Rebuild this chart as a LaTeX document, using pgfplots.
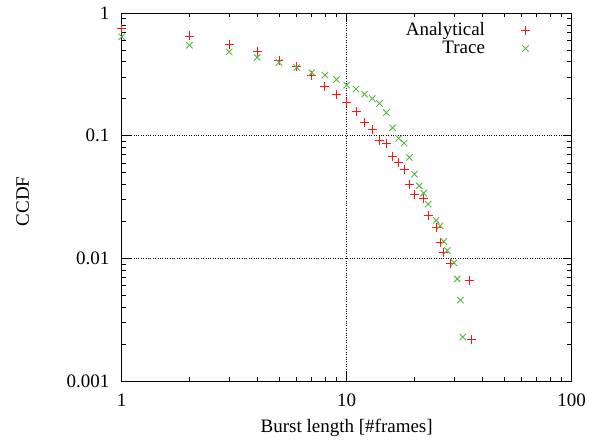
\documentclass[border=0pt]{standalone}
\usepackage{fontspec}
\setmainfont{Liberation Serif}
\usepackage{pgfplots}
\pgfplotsset{compat=1.18}
\definecolor{ared}{RGB}{255,20,20}
\definecolor{tgreen}{RGB}{85,185,65}
\begin{document}
\begin{tikzpicture}
\begin{loglogaxis}[
  scale only axis, width=450pt, height=368pt,
  xmin=1, xmax=100, ymin=0.001, ymax=1,
  xtick={1,10,100}, xticklabels={1,10,100},
  ytick={0.001,0.01,0.1,1}, yticklabels={0.001,0.01,0.1,1},
  tick align=inside, major tick length=9pt, minor tick length=4.5pt,
  xtick pos=both, ytick pos=both,
  xmajorgrids, ymajorgrids,
  major grid style={black, dotted, line width=0.9pt},
  tick style={black, line width=0.7pt},
  axis line style={black, line width=0.9pt},
  font=\fontsize{19}{21}\selectfont,
  xticklabel style={anchor=north, inner sep=0pt, yshift=-13pt},
  yticklabel style={anchor=east, inner sep=0pt, xshift=-12pt},
  every axis x label/.style={at={(axis description cs:0.5,0)}, anchor=center, yshift=-46.7pt},
  every axis y label/.style={at={(axis description cs:0,0.5)}, shift={(-99pt,-4.5pt)}, anchor=center, rotate=90},
  xlabel={Burst length [\#frames]}, ylabel={CCDF},
  legend plot pos=right,
  legend style={draw=none, fill=none, legend cell align=right,
    at={(axis description cs:0.9144,0.983)}, anchor=north east,
    column sep=35pt, inner xsep=3pt, inner ysep=2pt,
    nodes={inner sep=1pt, text height=13pt, text depth=3pt}},
]
\addplot[only marks, mark=+, color=ared, mark size=4.5pt, line width=0.9pt] coordinates {
(1,0.746) (2,0.65) (3,0.557) (4,0.49) (5,0.41) (6,0.366) (7,0.312) (8,0.253)
(9,0.217) (10,0.187) (11,0.157) (12,0.128) (13,0.113) (14,0.092) (15,0.0867)
(16,0.068) (17,0.060) (18,0.053) (19,0.0397) (20,0.0334) (22,0.031) (23,0.0222)
(25,0.0177) (26,0.0135) (27,0.0112) (29,0.009) (35,0.0066) (35.7,0.00218)
};
\addlegendentry{Analytical}
\addplot[only marks, mark=x, color=tgreen, mark size=4.5pt, line width=0.9pt] coordinates {
(1,0.64) (2,0.546) (3,0.482) (4,0.434) (5,0.395) (6,0.36) (7,0.326) (8,0.312)
(9,0.287) (10,0.258) (11,0.24) (12,0.218) (13,0.201) (14,0.183) (15,0.154)
(16,0.116) (17,0.095) (18,0.087) (19,0.0665) (20,0.0485) (21,0.039) (22,0.034)
(23,0.0277) (25,0.0204) (26,0.0184) (27,0.0137) (28,0.0116) (30,0.0092)
(31,0.0068) (32,0.00456) (32.8,0.00228)
};
\addlegendentry{Trace}
\end{loglogaxis}
\path (current axis.south west) ++(-121.7pt,-65pt) rectangle ++(589pt,446pt);
\end{tikzpicture}
\end{document}
